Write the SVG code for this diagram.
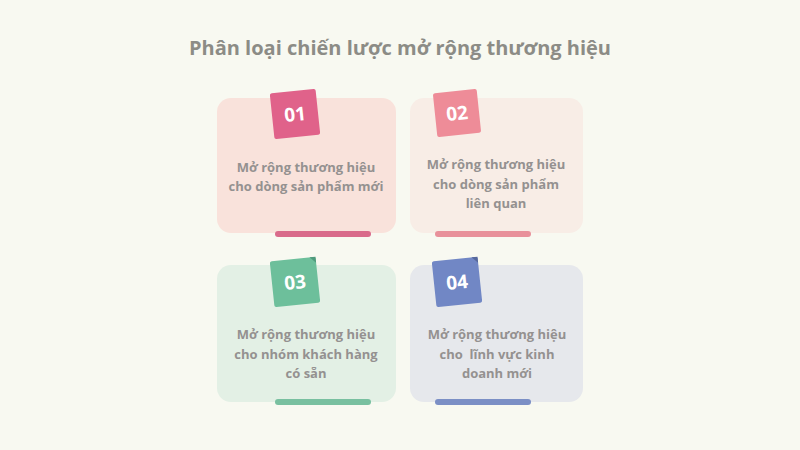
<svg xmlns="http://www.w3.org/2000/svg" width="800" height="450" viewBox="0 0 800 450">
<style>
.title{font-family:"Open Sans","Liberation Sans",sans-serif;font-weight:700;font-size:20px;fill:#8c8c86;text-anchor:middle}
.txt{font-family:"Open Sans","Liberation Sans",sans-serif;font-weight:700;font-size:13px;fill:#949190;text-anchor:middle}
.num{font-family:"Open Sans","Liberation Sans",sans-serif;font-weight:700;font-size:19px;fill:#ffffff;text-anchor:middle}
</style>
<rect width="800" height="450" fill="#f8f9f1"/>
<text class="title" x="400" y="55">Phân loại chiến lược mở rộng thương hiệu</text>
<g id="node1">
<rect x="217" y="98" width="179" height="135" rx="14" fill="#f9e2db"/>
<rect x="275" y="231" width="96" height="6" rx="3" fill="#d96b8b"/>
<g transform="rotate(-6 295 114)">
<rect x="272" y="91" width="46" height="46" rx="2" fill="#e0628a"/>
<text class="num" x="295" y="121">01</text>
</g>
<text class="txt" x="306" y="172">Mở rộng thương hiệu</text>
<text class="txt" x="306" y="191">cho dòng sản phẩm mới</text>
</g>
<g id="node2">
<rect x="410" y="98" width="173" height="135" rx="14" fill="#f8ede6"/>
<rect x="435" y="231" width="96" height="6" rx="3" fill="#e8919b"/>
<g transform="rotate(-6 457 113)">
<rect x="435" y="91" width="44" height="44" rx="2" fill="#ee8c98"/>
<text class="num" x="457" y="120">02</text>
</g>
<text class="txt" x="496" y="169">Mở rộng thương hiệu</text>
<text class="txt" x="496" y="189">cho dòng sản phẩm</text>
<text class="txt" x="496" y="208">liên quan</text>
</g>
<g id="node3">
<rect x="217" y="265" width="179" height="137" rx="14" fill="#e3f0e5"/>
<rect x="275" y="399" width="96" height="6" rx="3" fill="#79c0a0"/>
<g transform="rotate(-6 295 282)">
<rect x="272" y="259" width="46" height="46" rx="2" fill="#6dbf9b"/>
<path d="M312 259 L318 259 L318 265 Z" fill="#4f9a7c"/>
<text class="num" x="295" y="289">03</text>
</g>
<text class="txt" x="306" y="339">Mở rộng thương hiệu</text>
<text class="txt" x="306" y="359">cho nhóm khách hàng</text>
<text class="txt" x="306" y="378">có sẵn</text>
</g>
<g id="node4">
<rect x="410" y="265" width="173" height="137" rx="14" fill="#e6e8ec"/>
<rect x="435" y="399" width="96" height="6" rx="3" fill="#7b8fc5"/>
<g transform="rotate(-6 457 282)">
<rect x="434" y="259" width="46" height="46" rx="2" fill="#7187c5"/>
<path d="M474 259 L480 259 L480 265 Z" fill="#56689c"/>
<text class="num" x="457" y="289">04</text>
</g>
<text class="txt" x="497" y="339">Mở rộng thương hiệu</text>
<text class="txt" x="497" y="359" xml:space="preserve">cho  lĩnh vực kinh</text>
<text class="txt" x="497" y="378">doanh mới</text>
</g>
<g id="connectors"></g>
</svg>
